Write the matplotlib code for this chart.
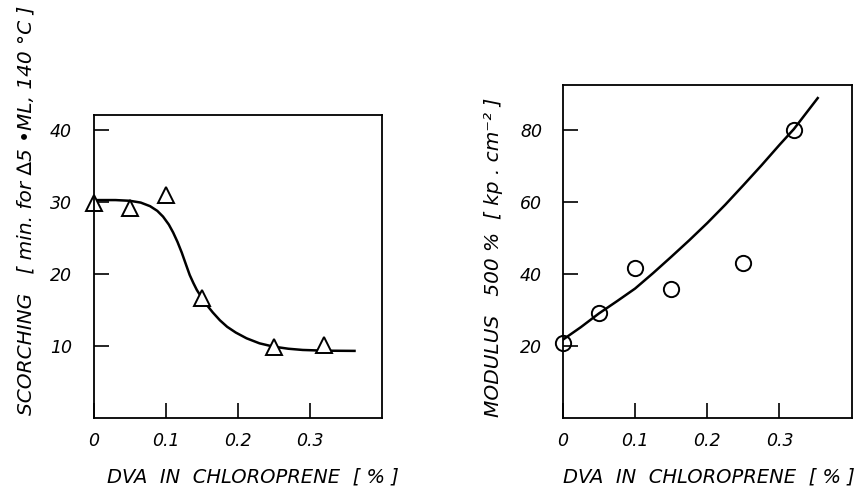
import matplotlib
matplotlib.use("Agg")
import matplotlib.pyplot as plt

# measured points (left: scorching time, right: modulus 500 %)
dva_pts = [0.0, 0.05, 0.10, 0.15, 0.25, 0.32]
scorch_pts = [29.9, 29.2, 31.0, 16.7, 9.9, 10.1]
modulus_pts = [20.9, 29.1, 41.6, 36.0, 43.1, 80.0]

# fitted curves
scorch_curve_x = [0.0, 0.03, 0.05, 0.065, 0.078, 0.088, 0.096, 0.104, 0.110, 0.116,
                  0.122, 0.128, 0.133, 0.138, 0.143, 0.150, 0.157, 0.165, 0.175, 0.185,
                  0.197, 0.212, 0.23, 0.249, 0.27, 0.29, 0.32, 0.362]
scorch_curve_y = [30.3, 30.3, 30.2, 29.95, 29.45, 28.8, 28.0, 26.9, 25.8, 24.5,
                  23.0, 21.3, 19.9, 18.8, 17.8, 16.7, 15.7, 14.7, 13.6, 12.7,
                  11.9, 11.1, 10.4, 9.95, 9.65, 9.48, 9.38, 9.35]
modulus_curve_x = [0.0, 0.025, 0.05, 0.075, 0.10, 0.125, 0.15, 0.175, 0.20, 0.225,
                   0.25, 0.275, 0.30, 0.32, 0.353]
modulus_curve_y = [21.8, 25.3, 29.1, 32.5, 36.0, 40.3, 44.8, 49.4, 54.2, 59.3,
                   64.7, 70.2, 75.9, 80.3, 88.9]

x_ticks = [0, 0.1, 0.2, 0.3]
x_ticklabels = ["0", "0.1", "0.2", "0.3"]
scorch_ticks = [10, 20, 30, 40]
modulus_ticks = [20, 40, 60, 80]

plt.rcParams['font.family'] = 'DejaVu Sans'
plt.rcParams['font.style'] = 'italic'

fig = plt.figure(figsize=(8.62, 4.92), dpi=100)
ax1 = fig.add_axes([0.109, 0.150, 0.334, 0.616])
ax2 = fig.add_axes([0.653, 0.150, 0.335, 0.677])

def style(ax, yticks, ymax, ypad):
    ax.set_xlim(0, 0.4)
    ax.set_ylim(0, ymax)
    ax.set_xticks(x_ticks)
    ax.set_xticklabels(x_ticklabels)
    ax.set_yticks(yticks)
    ax.tick_params(axis='both', direction='in', length=11, width=1.2,
                   labelsize=12.5, color='black')
    ax.tick_params(axis='x', pad=10)
    ax.tick_params(axis='y', pad=ypad)
    for s in ax.spines.values():
        s.set_linewidth(1.3)

# left panel
ax1.plot(scorch_curve_x, scorch_curve_y, color='black', linewidth=1.8,
         solid_joinstyle='round')
ax1.plot(dva_pts, scorch_pts, linestyle='none', marker='^', markersize=11,
         markerfacecolor='white', markeredgecolor='black', markeredgewidth=1.4,
         clip_on=False)
style(ax1, scorch_ticks, 42.1, 16)

# right panel
ax2.plot(modulus_curve_x, modulus_curve_y, color='black', linewidth=1.8,
         solid_joinstyle='round')
ax2.plot(dva_pts, modulus_pts, linestyle='none', marker='o', markersize=11,
         markerfacecolor='none', markeredgecolor='black', markeredgewidth=1.4,
         clip_on=False)
style(ax2, modulus_ticks, 92.5, 15)

# axis titles
fig.text(0.293, 0.030, "DVA  IN  CHLOROPRENE  [ % ]", fontsize=14,
         ha='center', va='center')
fig.text(0.822, 0.030, "DVA  IN  CHLOROPRENE  [ % ]", fontsize=14,
         ha='center', va='center')
fig.text(0.030, 0.573, "SCORCHING   [ min. for ∆5 •ML, 140 °C ]", fontsize=14.5,
         rotation=90, ha='center', va='center')
fig.text(0.572, 0.477, "MODULUS   500 %  [ kp . cm⁻² ]", fontsize=14.5,
         rotation=90, ha='center', va='center')

fig.savefig("out.png", dpi=100)
